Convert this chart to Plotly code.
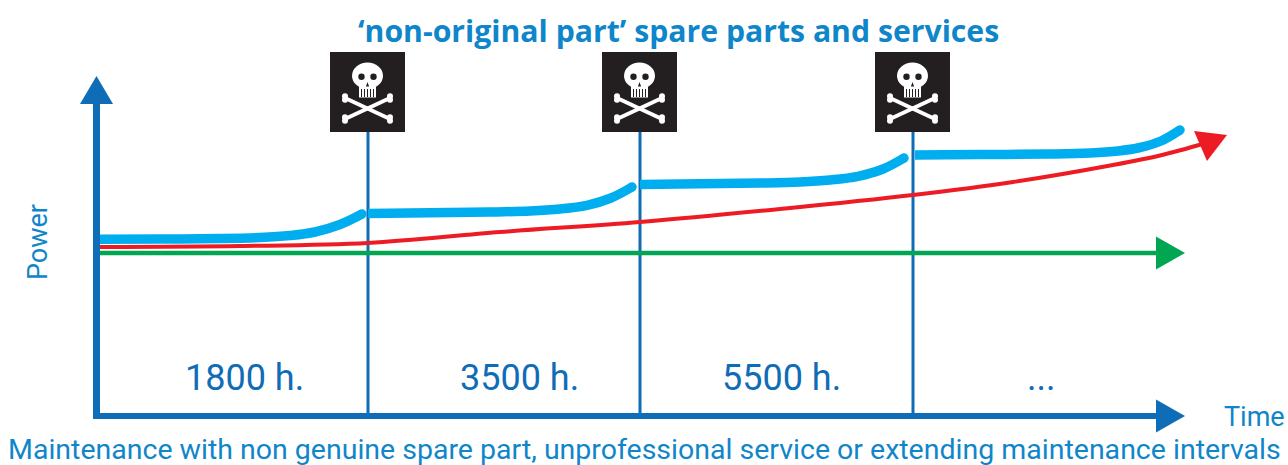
import plotly.graph_objects as go

# ---- data (x: time scale, y: power scale, both in chart units) ----
interval_labels = ["1800 h.", "3500 h.", "5500 h.", "..."]
interval_label_x = [244, 519, 781, 1041]
interval_label_y = [87, 87, 87, 87]
service_x = [368, 640, 913]

seg1_x = [100, 160, 220, 260, 290, 315, 340, 362]
seg1_y = [225.7, 226, 226.5, 227.5, 229.5, 233, 240.5, 251]
seg2_x = [368, 430, 490, 530, 560, 587, 611, 632]
seg2_y = [251.5, 252.3, 253, 254, 256, 259.7, 267, 278]
seg3_x = [640, 700, 760, 800, 830, 858, 883, 904]
seg3_y = [280.5, 281.3, 282, 283, 285, 288.7, 296, 307]
seg4_x = [915, 980, 1050, 1090, 1118, 1140, 1161, 1180]
seg4_y = [310, 310.4, 311, 312, 314, 317.5, 324, 335]
blue_segments = [(seg1_x, seg1_y), (seg2_x, seg2_y), (seg3_x, seg3_y), (seg4_x, seg4_y)]

red_x = [100, 240, 368, 500, 640, 780, 913, 1013, 1113, 1160, 1206]
red_y = [218, 219, 222, 233, 243, 256, 270, 283, 300, 309.5, 322]

green_x = [100, 1160]
green_y = [212, 212]

title_text = "‘non-original part’ spare parts and services"
caption_text = "Maintenance with non genuine spare part, unprofessional service or extending maintenance intervals"
x_title = "Time"
y_title = "Power"

# ---- styles ----
AXIS = "#0f6cb6"
TEXT = "#0f86ca"
CYAN = "#00aeef"
RED = "#ed1c24"
GREEN = "#00a651"
FLAG = "#231f20"
W, H = 1288, 465

fig = go.Figure()


def head(tip, a, b, color):
    fig.add_trace(go.Scatter(x=[tip[0], a[0], b[0], tip[0]], y=[tip[1], a[1], b[1], tip[1]],
                             mode="lines", fill="toself", fillcolor=color,
                             line=dict(color=color, width=0), hoverinfo="skip"))


# service lines
for sx in service_x:
    fig.add_trace(go.Scatter(x=[sx, sx], y=[49, 333], mode="lines",
                             line=dict(color=AXIS, width=3), hoverinfo="skip"))

# green
fig.add_trace(go.Scatter(x=green_x, y=green_y, mode="lines",
                         line=dict(color=GREEN, width=4.5), hoverinfo="skip"))
head((1185, 212), (1156, 228.5), (1156, 195.5), GREEN)

# blue segments
for sx, sy in blue_segments:
    fig.add_trace(go.Scatter(x=sx, y=sy, mode="lines",
                             line=dict(color=CYAN, width=9.5, shape="spline", smoothing=1.0),
                             hoverinfo="skip"))
    # rounded end of each segment
    fig.add_trace(go.Scatter(x=[sx[-1]], y=[sy[-1]], mode="markers",
                             marker=dict(color=CYAN, size=9.5, line=dict(width=0)), hoverinfo="skip"))

# red
fig.add_trace(go.Scatter(x=red_x, y=red_y, mode="lines",
                         line=dict(color=RED, width=4, shape="spline", smoothing=1.0), hoverinfo="skip"))
head((1227, 330), (1194, 334), (1207, 304), RED)

# axes
fig.add_trace(go.Scatter(x=[96, 1160], y=[49, 49], mode="lines",
                         line=dict(color=AXIS, width=6), hoverinfo="skip"))
head((1185, 49), (1156, 65.5), (1156, 32.5), AXIS)
fig.add_trace(go.Scatter(x=[96.5, 96.5], y=[46, 362], mode="lines",
                         line=dict(color=AXIS, width=7), hoverinfo="skip"))
head((96.5, 389), (80, 361), (113, 361), AXIS)

# flags with skull and crossbones
shapes = []
for sx in service_x:
    c = sx - 0.5
    shapes.append(dict(type="rect", x0=c - 37.5, x1=c + 37.5, y0=333, y1=413,
                       fillcolor=FLAG, line_width=0, layer="above"))
    for (dx0, dy0, dx1, dy1) in [(-22.5, 367, 22.5, 346), (-22.5, 346, 22.5, 367)]:
        shapes.append(dict(type="line", x0=c + dx0, y0=dy0, x1=c + dx1, y1=dy1,
                           line=dict(color="white", width=4), layer="above"))
        for ex, ey in [(dx0, dy0), (dx1, dy1)]:
            for off in (-1.8, 1.8):
                shapes.append(dict(type="circle", x0=c + ex - 3, x1=c + ex + 3,
                                   y0=ey + off - 3, y1=ey + off + 3,
                                   fillcolor="white", line_width=0, layer="above"))
    shapes.append(dict(type="circle", x0=c - 15.5, x1=c + 15.5, y0=376, y1=402.5,
                       fillcolor="white", line_width=0, layer="above"))
    shapes.append(dict(type="rect", x0=c - 8.5, x1=c + 8.5, y0=367.5, y1=382,
                       fillcolor="white", line_width=0, layer="above"))
    for ex in (-6, 6):
        shapes.append(dict(type="circle", x0=c + ex - 3.2, x1=c + ex + 3.2, y0=385, y1=391.4,
                           fillcolor=FLAG, line_width=0, layer="above"))
    shapes.append(dict(type="path", path=f"M {c-1.6},378.5 L {c+1.6},378.5 L {c},383 Z",
                       fillcolor=FLAG, line_width=0, layer="above"))
    for ex in (-6, -3, 0, 3, 6):
        shapes.append(dict(type="line", x0=c + ex, x1=c + ex, y0=368, y1=376,
                           line=dict(color=FLAG, width=1), layer="above"))

annotations = [
    dict(x=678, y=435, text=f"<b>{title_text}</b>", showarrow=False, xanchor="center", yanchor="middle",
         font=dict(family="Open Sans", size=30.2, color=TEXT)),
    dict(x=644, y=15.5, text=caption_text, showarrow=False, xanchor="center", yanchor="middle",
         font=dict(family="Roboto", size=28.5, color=TEXT)),
    dict(x=1254, y=48, text=x_title, showarrow=False, xanchor="center", yanchor="middle",
         font=dict(family="Roboto", size=27, color=TEXT)),
    dict(x=38, y=223, text=y_title, textangle=-90, showarrow=False, xanchor="center", yanchor="middle",
         font=dict(family="Roboto", size=27, color=TEXT)),
]
for lab, lx, ly in zip(interval_labels, interval_label_x, interval_label_y):
    annotations.append(dict(x=lx, y=ly, text=lab, showarrow=False, xanchor="center", yanchor="middle",
                            font=dict(family="Roboto", size=36, color=AXIS)))

fig.update_layout(
    width=W, height=H, margin=dict(l=0, r=0, t=0, b=0), autosize=False,
    paper_bgcolor="white", plot_bgcolor="white", showlegend=False,
    xaxis=dict(range=[0, W], visible=False, fixedrange=True),
    yaxis=dict(range=[0, H], visible=False, fixedrange=True),
    shapes=shapes, annotations=annotations,
)
fig.write_html("out.html", config=dict(displayModeBar=False),
               post_script="document.body.style.margin='0';document.body.style.overflow='hidden';")
